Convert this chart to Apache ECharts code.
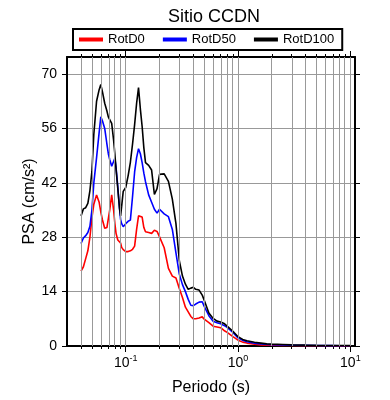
<!DOCTYPE html>
<html>
<head>
<meta charset="utf-8">
<script src="https://cdn.jsdelivr.net/npm/echarts@6/dist/echarts.min.js"></script>
<style>
  html, body { margin: 0; padding: 0; background: #fff; }
  #chart { width: 390px; height: 400px; }
</style>
</head>
<body>
<div id="chart"></div>
<script>
// periodos (s)
var periods = [0.040, 0.042, 0.044, 0.046, 0.048, 0.050, 0.052, 0.055, 0.058, 0.060,
  0.062, 0.065, 0.068, 0.070, 0.072, 0.075, 0.078, 0.080, 0.082, 0.085,
  0.088, 0.090, 0.092, 0.095, 0.100, 0.105, 0.110, 0.115, 0.120, 0.125,
  0.130, 0.135, 0.140, 0.145, 0.150, 0.160, 0.170, 0.180, 0.190, 0.200,
  0.220, 0.240, 0.260, 0.280, 0.300, 0.320, 0.340, 0.360, 0.380, 0.400,
  0.420, 0.450, 0.480, 0.500, 0.550, 0.600, 0.650, 0.700, 0.750, 0.800,
  0.900, 1.0, 1.1, 1.2, 1.4, 1.6, 1.8, 2.0, 2.5, 3.0,
  4.0, 5.0, 6.0, 7.0, 8.0, 10.0];

var rotd0 = [19.3, 20.4, 22.5, 24.5, 28, 33, 36.5, 38.9, 37, 34.5,
  32.5, 30.3, 30.5, 30.7, 35, 38.9, 35, 31.6, 29, 27.3,
  26.9, 26.5, 25.4, 24.8, 24.3, 24.3, 24.5, 24.9, 25.7, 30,
  33.5, 33.4, 33.2, 30.5, 29.4, 29.2, 29, 29.8, 29.5, 28.1,
  25.3, 20, 18, 17.5, 14.8, 12.5, 10, 8.8, 7.6, 7.0,
  7.0, 7.2, 7.5, 6.9, 6.0, 5.1, 4.9, 4.7, 4.0, 3.5,
  2.4, 1.5, 1.0, 0.75, 0.45, 0.3, 0.22, 0.18, 0.14, 0.11,
  0.08, 0.06, 0.05, 0.05, 0.04, 0.04];

var rotd50 = [26.4, 27.8, 28.4, 29.2, 30.8, 35, 42, 48.5, 55, 59,
  58, 56, 52, 49.5, 48, 46.3, 47.5, 48.3, 46, 41,
  35.5, 32.6, 31.5, 30.7, 31.5, 32.1, 32.4, 38.5, 44.8, 48.5,
  50.8, 49.5, 47.2, 44.5, 42.3, 38.9, 37, 35.2, 34.2, 35.2,
  34, 33.3, 30, 24, 18.5, 15.8, 14, 12, 10.5, 10.4,
  10.8, 11.3, 11.4, 10.2, 7.8, 6.4, 6.0, 5.7, 5.3, 4.8,
  3.5, 2.1, 1.5, 1.1, 0.7, 0.5, 0.4, 0.35, 0.27, 0.22,
  0.16, 0.12, 0.1, 0.09, 0.08, 0.07];

var rotd100 = [33.5, 35.3, 35.6, 36.7, 40, 45, 54.5, 63, 66, 67.3,
  65.5, 62.5, 60.5, 59, 58.3, 57.3, 53, 49.5, 45.5, 40.5,
  35.5, 33.5, 36, 39.8, 40.8, 43.8, 47.3, 52, 57, 62.5,
  66.5, 61, 56.5, 51, 47.2, 46.5, 45.3, 39, 40.5, 44.2,
  44.3, 42.4, 37.8, 31.5, 22, 18, 15.9, 14.6, 14.9, 15.1,
  14.6, 14.4, 13.1, 11.8, 8.5, 7.1, 6.4, 6.2, 5.8, 5.1,
  3.8, 2.4, 1.7, 1.35, 0.95, 0.75, 0.55, 0.48, 0.38, 0.3,
  0.22, 0.17, 0.14, 0.12, 0.11, 0.1];

var seriesNames = ['RotD0', 'RotD50', 'RotD100'];
var seriesColors = ['#ff0000', '#0000ff', '#000000'];
var yTicks = [0, 14, 28, 42, 56, 70];
var decades = [-1, 0, 1];

var xMin = Math.log10(0.03);
var xMax = Math.log10(11);
var yMax = 74.4;

// posiciones de la grilla logaritmica
var logTicks = [];
for (var e = -2; e <= 1; e++) {
  for (var k = 1; k <= 9; k++) {
    var v = e + Math.log10(k);
    if (v > xMin && v < xMax) logTicks.push(v);
  }
}

function toXY(vals) {
  return periods.map(function (p, i) { return [Math.log10(p), vals[i]]; });
}

var font = 'Liberation Sans, Arial, Helvetica, sans-serif';

function xAxisCfg(pos, line, ticks, len, labels) {
  return {
    type: 'value', position: pos, min: xMin, max: xMax,
    axisLine: { show: line, onZero: false, lineStyle: { color: '#000', width: 2 } },
    axisTick: { show: true, inside: false, length: len, customValues: ticks, lineStyle: { color: '#000', width: 1 } },
    axisLabel: labels ? {
      show: true, customValues: decades, margin: 8, color: '#000', fontFamily: font,
      formatter: function (v) {
        var n = Math.round(v);
        return '{b|10}{s|' + (n < 0 ? '-' : '') + Math.abs(n) + '}';
      },
      rich: {
        b: { fontSize: 14, fontFamily: font, color: '#000' },
        s: { fontSize: 9, fontFamily: font, color: '#000', padding: [0, 0, 9, 0] }
      }
    } : { show: false },
    splitLine: { show: false },
    name: labels ? 'Periodo (s)' : '',
    nameLocation: 'middle', nameGap: 34,
    nameTextStyle: { fontSize: 16, color: '#000', fontFamily: font }
  };
}

function yAxisCfg(pos, labels) {
  return {
    type: 'value', position: pos, min: 0, max: yMax, interval: 14,
    axisLine: { show: true, onZero: false, lineStyle: { color: '#000', width: 2 } },
    axisTick: { show: true, inside: false, length: 5, customValues: yTicks, lineStyle: { color: '#000', width: 1 } },
    axisLabel: labels ? { show: true, customValues: yTicks, margin: 10, fontSize: 14, color: '#000', fontFamily: font } : { show: false },
    splitLine: { show: labels, lineStyle: { color: '#999', width: 1 } },
    name: labels ? 'PSA (cm/s²)' : '',
    nameLocation: 'middle', nameGap: 29, nameRotate: 90, nameMoveOverlap: false,
    nameTextStyle: { fontSize: 16, color: '#000', fontFamily: font }
  };
}

var chart = echarts.init(document.getElementById('chart'));

var series = [{
  type: 'line', data: [], z: 1, silent: true,
  markLine: {
    silent: true, symbol: ['none', 'none'], animation: false,
    label: { show: false },
    lineStyle: { color: '#999', width: 1, type: 'solid' },
    data: logTicks.map(function (v) { return { xAxis: v }; })
  }
}];
[rotd0, rotd50, rotd100].forEach(function (vals, i) {
  series.push({
    name: seriesNames[i], type: 'line', data: toXY(vals), z: 3,
    showSymbol: false, symbol: 'none',
    lineStyle: { color: seriesColors[i], width: 1.6 },
    itemStyle: { color: seriesColors[i] }
  });
});

chart.setOption({
  animation: false,
  backgroundColor: '#fff',
  textStyle: { fontFamily: font },
  title: {
    text: 'Sitio CCDN', left: 163, top: 3,
    textStyle: { fontSize: 18, fontWeight: 'normal', color: '#000', fontFamily: font }
  },
  legend: {
    data: seriesNames, left: 73, top: 29,
    icon: 'rect', itemWidth: 24, itemHeight: 4, itemGap: 18,
    padding: [4, 8, 4, 6], borderColor: '#000', borderWidth: 2,
    textStyle: { fontSize: 13, color: '#000', fontFamily: font }
  },
  grid: { left: 67, right: 35, top: 57, bottom: 54, containLabel: false, outerBoundsMode: 'none' },
  xAxis: [
    xAxisCfg('bottom', true, logTicks, 3, true),
    xAxisCfg('top', true, logTicks, 3, false),
    xAxisCfg('bottom', false, decades, 6, false),
    xAxisCfg('top', false, decades, 6, false)
  ],
  yAxis: [yAxisCfg('left', true), yAxisCfg('right', false)],
  series: series
});
</script>
</body>
</html>
